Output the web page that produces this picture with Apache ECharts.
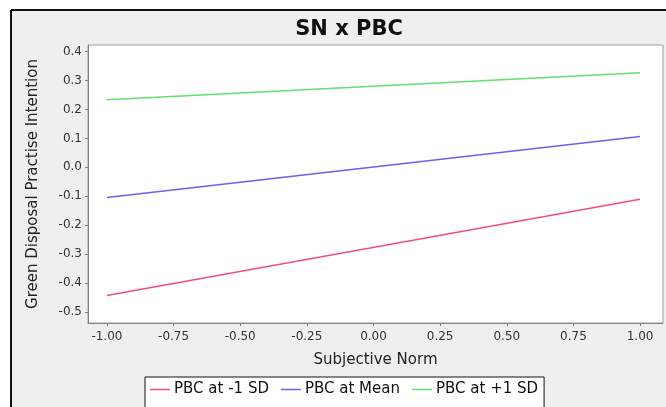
<!DOCTYPE html>
<html>
<head>
<meta charset="utf-8">
<script src="https://cdn.jsdelivr.net/npm/echarts@6/dist/echarts.min.js"></script>
<style>
  html, body { margin: 0; padding: 0; background: #ffffff; overflow: hidden; }
  #chart { position: absolute; left: 0; top: 0; width: 666px; height: 407px; }
</style>
</head>
<body>
<div id="chart"></div>
<script>
// Simple slopes of Green Disposal Practise Intention on Subjective Norm
const xValues = [-1.0, 1.0];
const pbcLow = [-0.443, -0.110];   // PBC at -1 SD
const pbcMean = [-0.104, 0.107];   // PBC at Mean
const pbcHigh = [0.234, 0.327];    // PBC at +1 SD
const seriesNames = ['PBC at -1 SD', 'PBC at Mean', 'PBC at +1 SD'];
const xTicks = [-1.0, -0.75, -0.5, -0.25, 0.0, 0.25, 0.5, 0.75, 1.0];
const yTicks = [-0.5, -0.4, -0.3, -0.2, -0.1, 0.0, 0.1, 0.2, 0.3, 0.4];

const font = '"Lucida Grande", "DejaVu Sans", sans-serif';
const colors = ['#f04f78', '#6f5ff2', '#5fe070'];

function pairs(ys) { return xValues.map((x, i) => [x, ys[i]]); }

const chart = echarts.init(document.getElementById('chart'), null, { renderer: 'canvas' });
chart.setOption({
  backgroundColor: '#ffffff',
  animation: false,
  color: colors,
  // panel behind the plot, with its dark top and left edge
  graphic: [
    { type: 'rect', silent: true, z: -10, shape: { x: 11, y: 10, width: 700, height: 420 },
      style: { fill: '#efefef' } },
    { type: 'line', silent: true, z: -9, shape: { x1: 11, y1: 10, x2: 700, y2: 10 },
      style: { stroke: '#111', lineWidth: 2 } },
    { type: 'line', silent: true, z: -9, shape: { x1: 11, y1: 10, x2: 11, y2: 420 },
      style: { stroke: '#111', lineWidth: 2 } }
  ],
  title: {
    text: 'SN x PBC',
    left: 344, top: 14, textAlign: 'center',
    textStyle: { fontFamily: font, fontSize: 21, fontWeight: 'bold', color: '#111' }
  },
  grid: {
    left: 88, right: 3, top: 45, bottom: 84,
    show: true, backgroundColor: '#ffffff', borderColor: '#a0a0a0', borderWidth: 1
  },
  xAxis: {
    type: 'value', min: -1.071, max: 1.086,
    name: 'Subjective Norm', nameLocation: 'middle', nameGap: 30,
    nameTextStyle: { fontFamily: font, fontSize: 15, color: '#222' },
    axisLine: { show: true, onZero: false, lineStyle: { color: '#808080' } },
    axisTick: { show: true, inside: false, length: 3, customValues: xTicks, lineStyle: { color: '#808080' } },
    axisLabel: { customValues: xTicks, fontFamily: font, fontSize: 12, color: '#333', margin: 8,
                 formatter: v => v.toFixed(2) },
    splitLine: { show: false }
  },
  yAxis: {
    type: 'value', min: -0.538, max: 0.423,
    name: 'Green Disposal Practise Intention', nameLocation: 'middle', nameGap: 47,
    nameTextStyle: { fontFamily: font, fontSize: 15, color: '#222' },
    axisLine: { show: true, onZero: false, lineStyle: { color: '#808080' } },
    axisTick: { show: true, inside: false, length: 3, customValues: yTicks, lineStyle: { color: '#808080' } },
    axisLabel: { customValues: yTicks, fontFamily: font, fontSize: 12, color: '#333', margin: 6,
                 formatter: v => v.toFixed(1) },
    splitLine: { show: false }
  },
  legend: {
    left: 145, top: 377,
    data: seriesNames,
    icon: 'rect', itemWidth: 20, itemHeight: 1.5, itemGap: 12,
    padding: [5, 6, 20, 5],
    backgroundColor: '#ffffff', borderColor: '#111', borderWidth: 1, borderRadius: 0,
    textStyle: { fontFamily: font, fontSize: 15, color: '#111', padding: [0, 0, 0, -1] }
  },
  series: [
    { name: seriesNames[0], type: 'line', data: pairs(pbcLow), showSymbol: false, lineStyle: { width: 1.5 } },
    { name: seriesNames[1], type: 'line', data: pairs(pbcMean), showSymbol: false, lineStyle: { width: 1.5 } },
    { name: seriesNames[2], type: 'line', data: pairs(pbcHigh), showSymbol: false, lineStyle: { width: 1.5 } }
  ]
});
</script>
</body>
</html>
